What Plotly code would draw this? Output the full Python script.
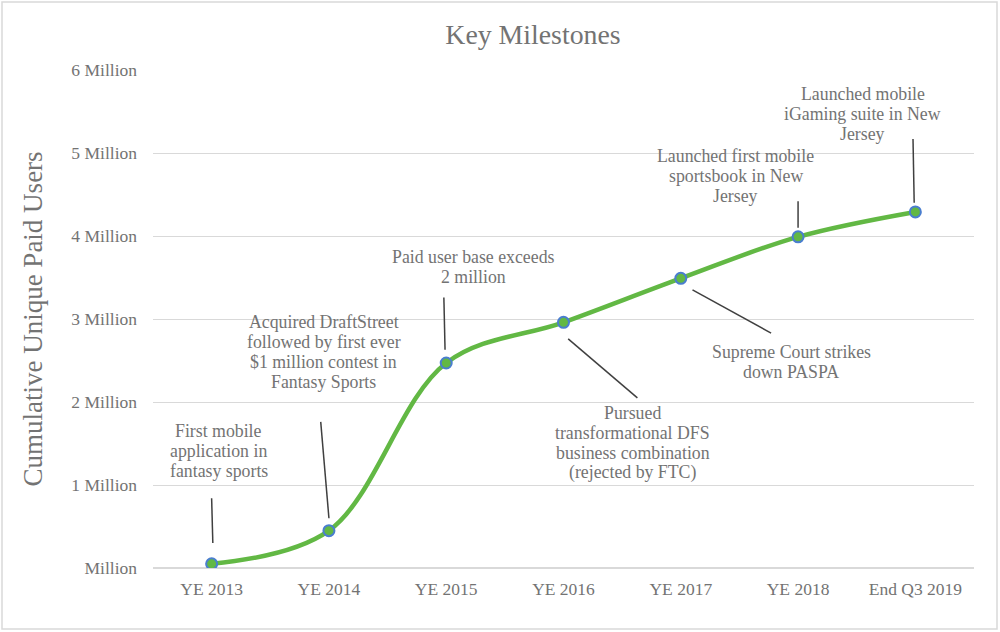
import plotly.graph_objects as go

# ---- data ----
categories = ["YE 2013", "YE 2014", "YE 2015", "YE 2016", "YE 2017", "YE 2018", "End Q3 2019"]
users_millions = [0.05, 0.45, 2.47, 2.96, 3.49, 3.99, 4.29]
y_tick_vals = [0, 1, 2, 3, 4, 5, 6]
y_tick_text = ["Million", "1 Million", "2 Million", "3 Million", "4 Million", "5 Million", "6 Million"]

milestone_texts = [
    ["First mobile", "application in", "fantasy sports"],
    ["Acquired DraftStreet", "followed by first ever", "$1 million contest in", "Fantasy Sports"],
    ["Paid user base exceeds", "2 million"],
    ["Pursued", "transformational DFS", "business combination", "(rejected by FTC)"],
    ["Supreme Court strikes", "down PASPA"],
    ["Launched first mobile", "sportsbook in New", "Jersey"],
    ["Launched mobile", "iGaming suite in New", "Jersey"],
]
# label centre (x index, y millions) and leader line (x0, y0, x1, y1)
label_pos = [(0.06, 1.41), (0.955, 2.60), (2.23, 3.63), (3.59, 1.51), (4.94, 2.48), (4.47, 4.72), (5.55, 5.47)]
leader_lines = [
    (0.00, 0.84, 0.01, 0.30),
    (0.93, 1.76, 1.00, 0.60),
    (1.98, 3.26, 1.99, 2.63),
    (3.04, 2.76, 3.63, 2.05),
    (4.10, 3.35, 4.77, 2.83),
    (5.00, 4.42, 5.00, 4.10),
    (5.98, 5.17, 5.99, 4.40),
]

FONT = "Liberation Serif, Times New Roman, serif"
TXT = "#737373"
x_idx = list(range(len(categories)))

fig = go.Figure()
fig.add_trace(go.Scatter(
    x=x_idx, y=users_millions, mode="lines+markers",
    line=dict(color="#62b844", width=4.5, shape="spline", smoothing=1.0),
    marker=dict(size=11, color="#62b844", line=dict(color="#4a7ecf", width=2)),
    hoverinfo="skip", showlegend=False,
))

annotations = []
line_h = 20
for lines, (lx, ly) in zip(milestone_texts, label_pos):
    n = len(lines)
    for i, t in enumerate(lines):
        annotations.append(dict(
            x=lx, y=ly, xref="x", yref="y", text=t, showarrow=False,
            xanchor="center", yanchor="middle",
            yshift=-(i - (n - 1) / 2) * line_h,
            font=dict(family=FONT, size=17.8, color=TXT),
        ))

shapes = []
for (x0, y0, x1, y1) in leader_lines:
    shapes.append(dict(type="line", xref="x", yref="y", x0=x0, y0=y0, x1=x1, y1=y1,
                       line=dict(color="#404040", width=1.5)))
# outer chart border
shapes.append(dict(type="rect", xref="paper", yref="paper",
                   x0=(2 - 153) / 821, x1=(997 - 153) / 821,
                   y0=(568 - 629) / 498, y1=(568 - 2) / 498,
                   line=dict(color="#d9d9d9", width=1.5), fillcolor="rgba(0,0,0,0)", layer="below"))

fig.update_layout(
    width=1000, height=632,
    margin=dict(l=153, r=26, t=70, b=64),
    paper_bgcolor="white", plot_bgcolor="white",
    title=dict(text="Key Milestones", x=0.533, xanchor="center", y=1 - 34 / 632, yanchor="middle",
               font=dict(family=FONT, size=27.8, color=TXT)),
    xaxis=dict(
        range=[-0.5, 6.5], tickmode="array", tickvals=x_idx, ticktext=categories,
        showgrid=False, zeroline=False, showline=False, ticks="",
        tickfont=dict(family=FONT, size=17.5, color=TXT), ticklabelstandoff=8,
    ),
    yaxis=dict(
        range=[0, 6], tickmode="array", tickvals=y_tick_vals, ticktext=y_tick_text,
        showgrid=True, gridcolor="#d9d9d9", gridwidth=1.2, zeroline=True, zerolinecolor="#d9d9d9",
        zerolinewidth=1.5, showline=False, ticks="",
        tickfont=dict(family=FONT, size=17.5, color=TXT), ticklabelstandoff=15,
        title=dict(text="Cumulative Unique Paid Users", standoff=20,
                   font=dict(family=FONT, size=27, color=TXT)),
    ),
    annotations=annotations,
    shapes=shapes,
)

fig.write_html("out.html", config={"displayModeBar": False},
               post_script="document.body.style.margin='0';document.body.style.overflow='hidden';")
